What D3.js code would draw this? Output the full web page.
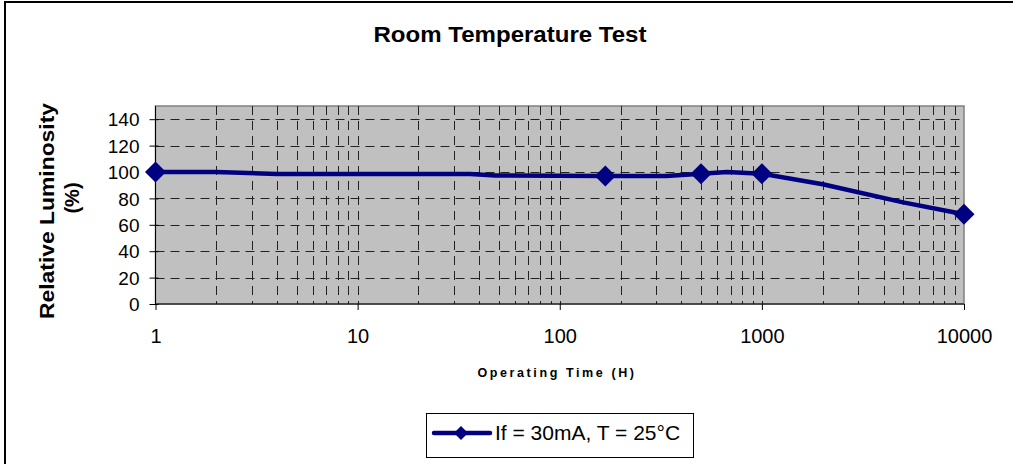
<!DOCTYPE html>
<html lang="en">
<head>
    <meta charset="UTF-8">
    <title>Room Temperature Test</title>
    <script src="https://cdn.jsdelivr.net/npm/d3@7"></script>
    <style>
        body { margin: 0; background: #fff; }
        svg { display: block; font-family: "Liberation Sans", Arial, sans-serif; }
    </style>
</head>
<body>
<div id="chart"></div>
<script>
    // data
    var hours = [1, 2, 4, 36, 48, 168, 336, 500, 672, 1000, 2000, 5000, 10000];
    var luminosity = [100, 100, 98.5, 98.5, 97.3, 97, 97, 98.7, 100, 98.7, 90.7, 77, 68];
    var hasMarker = [true, false, false, false, false, true, false, true, false, true, false, false, true];
    var yTicks = [0, 20, 40, 60, 80, 100, 120, 140];
    var xTicks = [1, 10, 100, 1000, 10000];
    var seriesName = 'If = 30mA, T = 25°C';

    var width = 1013, height = 464;
    // plot box (note: "top" is reserved on window, so use pLeft/pTop...)
    var pLeft = 155.5, pRight = 964, pTop = 106, pBottom = 304;

    var svg = d3.select('#chart').append('svg')
        .attr('width', width)
        .attr('height', height);

    // outer chart border
    svg.append('rect')
        .attr('x', 5).attr('y', 2)
        .attr('width', 1020).attr('height', 480)
        .attr('fill', '#fff')
        .attr('stroke', '#000')
        .attr('stroke-width', 2);

    var x = d3.scaleLog().domain([1, 10000]).range([pLeft, pRight]);
    var y = d3.scaleLinear().domain([0, 150]).range([pBottom, pTop]);

    // plot area
    svg.append('rect')
        .attr('x', pLeft).attr('y', pTop)
        .attr('width', pRight - pLeft).attr('height', pBottom - pTop)
        .attr('fill', '#c0c0c0')
        .attr('stroke', '#808080')
        .attr('stroke-width', 1.5);

    // minor + major vertical grid (2..9 in each decade, plus decades)
    var vGrid = [];
    for (var d = 1; d < 10000; d *= 10) {
        for (var k = 2; k <= 10; k++) {
            if (d * k < 10000) vGrid.push(d * k);
        }
    }
    svg.append('g').selectAll('line').data(vGrid).enter().append('line')
        .attr('x1', function (v) { return Math.round(x(v)) + 0.5; })
        .attr('x2', function (v) { return Math.round(x(v)) + 0.5; })
        .attr('y1', pTop).attr('y2', pBottom)
        .attr('stroke', '#222')
        .attr('stroke-width', 1)
        .attr('stroke-dasharray', '9,6');

    svg.append('g').selectAll('line').data(yTicks.slice(1)).enter().append('line')
        .attr('x1', pLeft).attr('x2', pRight)
        .attr('y1', function (v) { return Math.round(y(v)) + 0.5; })
        .attr('y2', function (v) { return Math.round(y(v)) + 0.5; })
        .attr('stroke', '#222')
        .attr('stroke-width', 1)
        .attr('stroke-dasharray', '9,6');

    // y axis
    var yAxis = svg.append('g')
        .attr('transform', 'translate(' + pLeft + ',0)')
        .call(d3.axisLeft(y).tickValues(yTicks).tickSize(6).tickSizeOuter(0).tickPadding(10));
    yAxis.select('.domain').attr('stroke', '#000').attr('d', 'M0,' + pTop + 'V' + pBottom);
    yAxis.selectAll('.tick line').attr('x2', -6).attr('x1', 3).attr('stroke', '#000');
    yAxis.selectAll('.tick text')
        .attr('font-size', 19)
        .attr('font-family', '"Liberation Sans", Arial, sans-serif')
        .attr('fill', '#000')
        .attr('x', -16)
        .attr('dy', '0.35em');

    // x axis
    var xAxis = svg.append('g')
        .attr('transform', 'translate(0,' + pBottom + ')')
        .call(d3.axisBottom(x).tickValues(xTicks).tickFormat(d3.format('d')).tickSize(6).tickSizeOuter(0));
    xAxis.select('.domain').attr('stroke', '#000').attr('d', 'M' + pLeft + ',0H' + pRight);
    xAxis.selectAll('.tick line').attr('stroke', '#000');
    xAxis.selectAll('.tick text')
        .attr('font-size', 20)
        .attr('font-family', '"Liberation Sans", Arial, sans-serif')
        .attr('fill', '#000')
        .attr('y', 39)
        .attr('dy', 0);

    // series line
    var pts = hours.map(function (h, i) { return {h: h, v: luminosity[i], m: hasMarker[i]}; });
    var line = d3.line()
        .x(function (p) { return x(p.h); })
        .y(function (p) { return y(p.v); });
    svg.append('path')
        .datum(pts)
        .attr('d', line)
        .attr('fill', 'none')
        .attr('stroke', '#000080')
        .attr('stroke-width', 4.5)
        .attr('stroke-linejoin', 'round');

    var diamond = function (cx, cy, r) {
        return 'M' + cx + ',' + (cy - r) + 'L' + (cx + r) + ',' + cy +
            'L' + cx + ',' + (cy + r) + 'L' + (cx - r) + ',' + cy + 'Z';
    };
    svg.append('g').selectAll('path')
        .data(pts.filter(function (p) { return p.m; }))
        .enter().append('path')
        .attr('d', function (p) { return diamond(x(p.h), y(p.v), 10.5); })
        .attr('fill', '#000080');

    // titles
    svg.append('text')
        .attr('x', 510).attr('y', 42)
        .attr('text-anchor', 'middle')
        .attr('font-size', 22)
        .attr('font-weight', 'bold')
        .attr('textLength', 273)
        .attr('lengthAdjust', 'spacingAndGlyphs')
        .text('Room Temperature Test');

    svg.append('text')
        .attr('transform', 'translate(54,211) rotate(-90)')
        .attr('text-anchor', 'middle')
        .attr('font-size', 20)
        .attr('font-weight', 'bold')
        .attr('textLength', 216)
        .attr('lengthAdjust', 'spacingAndGlyphs')
        .text('Relative Luminosity');
    svg.append('text')
        .attr('transform', 'translate(79,198) rotate(-90)')
        .attr('text-anchor', 'middle')
        .attr('font-size', 20)
        .attr('font-weight', 'bold')
        .text('(%)');

    svg.append('text')
        .attr('x', 557).attr('y', 377)
        .attr('text-anchor', 'middle')
        .attr('font-size', 12.5)
        .attr('font-weight', 'bold')
        .attr('letter-spacing', 2.6)
        .text('Operating Time (H)');

    // legend
    var lg = svg.append('g');
    lg.append('rect')
        .attr('x', 426.5).attr('y', 413.5)
        .attr('width', 267).attr('height', 44)
        .attr('fill', '#fff')
        .attr('stroke', '#000')
        .attr('stroke-width', 1);
    lg.append('line')
        .attr('x1', 434).attr('x2', 490)
        .attr('y1', 433).attr('y2', 433)
        .attr('stroke', '#000080')
        .attr('stroke-width', 4.5)
        .attr('stroke-linecap', 'round');
    lg.append('path')
        .attr('d', diamond(461, 433, 7))
        .attr('fill', '#000080');
    lg.append('text')
        .attr('x', 495).attr('y', 440)
        .attr('font-size', 21)
        .text(seriesName);
</script>
</body>
</html>
